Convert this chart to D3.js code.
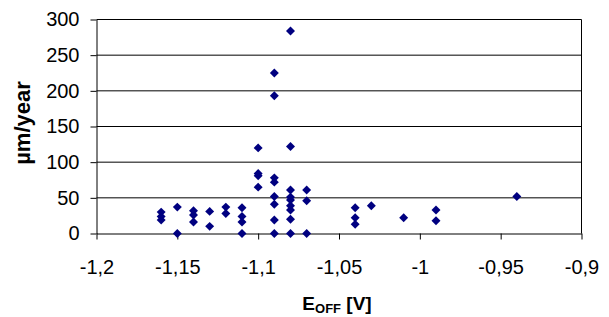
<!DOCTYPE html>
<html><head><meta charset="utf-8">
<script src="https://cdn.jsdelivr.net/npm/d3@7"></script>
<style>body{margin:0;background:#fff}svg{display:block}text{font-family:"Liberation Sans",Arial,sans-serif}</style>
</head><body><svg id="c" width="609" height="317"></svg>
<script>
const xVals = [-1.16,-1.16,-1.16,-1.15,-1.15,-1.14,-1.14,-1.14,-1.13,-1.13,-1.12,-1.12,-1.11,-1.11,-1.11,-1.11,-1.10,-1.10,-1.10,-1.10,-1.09,-1.09,-1.09,-1.09,-1.09,-1.09,-1.09,-1.09,-1.08,-1.08,-1.08,-1.08,-1.08,-1.08,-1.08,-1.08,-1.08,-1.07,-1.07,-1.07,-1.04,-1.04,-1.04,-1.03,-1.01,-0.99,-0.99,-0.94];
const yVals = [30,24,19,37,0,32,26,16,31,10,37,28,36,24,16,0,120,84,81,65,225,193,78,72,52,41,19,0,284,122,61,51,47,39,33,20,0,61,46,0,36,22,13,39,22,33,18,52];
const xTicks = [-1.2,-1.15,-1.1,-1.05,-1,-0.95,-0.9];
const xTickLabels = ["-1,2","-1,15","-1,1","-1,05","-1","-0,95","-0,9"];
const yTicks = [0,50,100,150,200,250,300];

const svg = d3.select("#c");
const L = 96.5, R = 581.5, T = 19.5, B = 233.5;
const x = d3.scaleLinear().domain([-1.2,-0.9]).range([L,R]);
const y = d3.scaleLinear().domain([0,300]).range([B,T]);

// gridlines
svg.append("g").selectAll("line").data(yTicks.filter(d=>d>0)).join("line")
  .attr("x1",L).attr("x2",R).attr("y1",d=>y(d)).attr("y2",d=>y(d))
  .attr("stroke","#000").attr("stroke-width",1);
// right border
svg.append("line").attr("x1",R).attr("x2",R).attr("y1",T).attr("y2",B).attr("stroke","#000");

const yAxis = svg.append("g").attr("transform",`translate(${L},0)`)
  .call(d3.axisLeft(y).tickValues(yTicks).tickSize(6).tickSizeOuter(0).tickPadding(11));
const xAxis = svg.append("g").attr("transform",`translate(0,${B})`)
  .call(d3.axisBottom(x).tickValues(xTicks).tickFormat((d,i)=>xTickLabels[i]).tickSize(6).tickSizeOuter(0).tickPadding(20));
[yAxis,xAxis].forEach(a=>{
  a.select(".domain").attr("stroke","#000");
  a.selectAll(".tick line").attr("stroke","#000");
  a.selectAll("text").attr("font-size",20).attr("fill","#000").attr("font-family","Liberation Sans, Arial, sans-serif");
});

// points
const sym = d3.symbol(d3.symbolSquare, 40);
svg.append("g").selectAll("path").data(xVals.map((v,i)=>[v,yVals[i]])).join("path")
  .attr("d",sym).attr("fill","#000080")
  .attr("transform",d=>`translate(${x(d[0])},${y(d[1])}) rotate(45)`);

// titles
svg.append("text").attr("transform",`translate(22,123) rotate(-90)`)
  .attr("text-anchor","middle").attr("dominant-baseline","central")
  .attr("font-size",22).attr("font-weight","bold").text("µm/year");
const xt = svg.append("text").attr("x",337).attr("y",310)
  .attr("text-anchor","middle").attr("font-size",19).attr("font-weight","bold");
xt.append("tspan").text("E");
xt.append("tspan").attr("font-size",13).attr("dy",3).text("OFF");
xt.append("tspan").attr("dy",-3).text(" [V]");
</script></body></html>
